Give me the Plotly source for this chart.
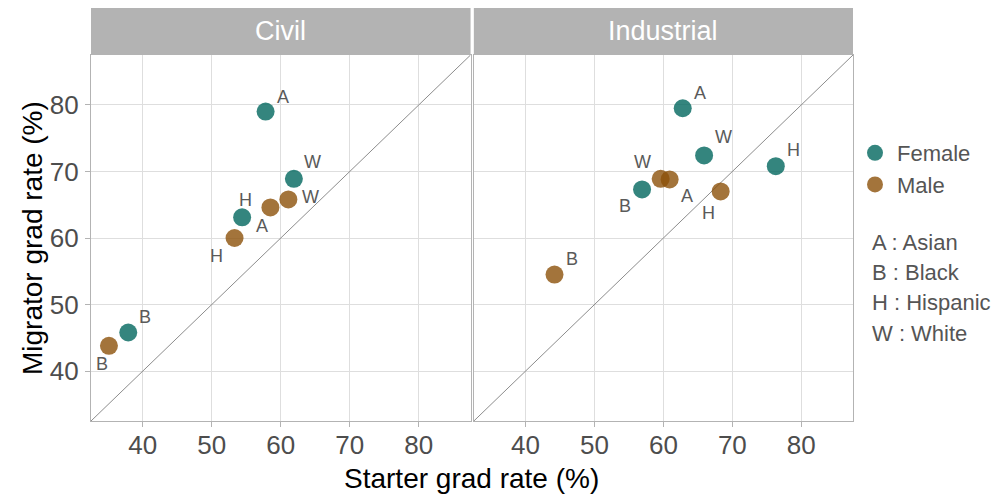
import plotly.graph_objects as go

# ---------------- data ----------------
facets = ["Civil", "Industrial"]
groups = ["A", "B", "H", "W"]
civil_female_x = [57.8, 37.9, 54.4, 61.9]
civil_female_y = [79.0, 45.8, 63.1, 68.9]
civil_male_x = [58.5, 35.1, 53.3, 61.1]
civil_male_y = [64.6, 43.8, 60.0, 65.8]
ind_female_x = [62.8, 56.9, 76.3, 65.9]
ind_female_y = [79.5, 67.3, 70.8, 72.4]
ind_male_x = [60.9, 44.2, 68.3, 59.6]
ind_male_y = [68.8, 54.5, 67.0, 68.9]
key_labels = ["A : Asian", "B : Black", "H : Hispanic", "W : White"]
tick_vals = [40, 50, 60, 70, 80]
axis_range = [32.5, 87.5]

# ---------------- style ----------------
FONT = "Liberation Sans, Arial, sans-serif"
COL_F = "#01665E"
COL_M = "#8C510A"
GRID = "#DEDEDE"
BORDER = "#B3B3B3"
TICKTXT = "#4D4D4D"
LABEL_COL = "#5A5A5A"

# label offsets in pixels (xshift, yshift), order A, B, H, W
off_civil_f = [(17, 15), (17, 15), (3, 17), (19, 17)]
off_civil_m = [(-8, -19), (-7, -18), (-18, -18), (22, 2)]
off_ind_f = [(17, 15), (-17, -17), (18, 16), (19, 18)]
off_ind_m = [(17, -17), (17, 16), (-12, -22), (-18, 17)]

W, H = 997, 495
L, R, T, B = 91, 997 - 853.3, 55, 495 - 420.7
plot_w = W - L - R
plot_h = H - T - B
dom1 = [0, (470.7 - L) / plot_w]
dom2 = [(474 - L) / plot_w, 1]

fig = go.Figure()

panels = [
    ("x", "y", civil_female_x, civil_female_y, civil_male_x, civil_male_y, off_civil_f, off_civil_m, True, dom1),
    ("x2", "y2", ind_female_x, ind_female_y, ind_male_x, ind_male_y, off_ind_f, off_ind_m, False, dom2),
]

annotations = []
shapes = []
strip_h = 47 / plot_h
for i, (xa, ya, fx, fy, mx, my, off_f, off_m, show, dom) in enumerate(panels):
    # identity line
    fig.add_trace(go.Scatter(x=axis_range, y=axis_range, mode="lines",
                             line=dict(color="#8C8C8C", width=1),
                             xaxis=xa, yaxis=ya, showlegend=False, hoverinfo="skip"))
    fig.add_trace(go.Scatter(x=fx, y=fy, mode="markers", name="Female",
                             marker=dict(color=COL_F, size=18, opacity=0.8),
                             xaxis=xa, yaxis=ya, showlegend=show, legendgroup="F"))
    fig.add_trace(go.Scatter(x=mx, y=my, mode="markers", name="Male",
                             marker=dict(color=COL_M, size=18, opacity=0.8),
                             xaxis=xa, yaxis=ya, showlegend=show, legendgroup="M"))
    for xs, ys, offs in ((fx, fy, off_f), (mx, my, off_m)):
        for g, xv, yv, (dx, dy) in zip(groups, xs, ys, offs):
            annotations.append(dict(x=xv, y=yv, xref=xa, yref=ya, text=g,
                                    showarrow=False, xshift=dx, yshift=dy,
                                    font=dict(family=FONT, size=18, color=LABEL_COL)))
    # strip
    shapes.append(dict(type="rect", xref="paper", yref="paper", x0=dom[0], x1=dom[1],
                       y0=1, y1=1 + strip_h,
                       fillcolor="#B3B3B3", line=dict(width=0), layer="below"))
    annotations.append(dict(xref="paper", yref="paper", x=(dom[0] + dom[1]) / 2,
                            y=1 + strip_h / 2, yanchor="middle", xanchor="center",
                            text=facets[i], showarrow=False,
                            font=dict(family=FONT, size=27, color="white")))

# shared axis titles
annotations.append(dict(xref="paper", yref="paper", x=(472 - L) / plot_w, y=-(478 - 420.7) / plot_h,
                        yanchor="middle", text="Starter grad rate (%)", showarrow=False,
                        font=dict(family=FONT, size=28, color="black")))
annotations.append(dict(xref="paper", yref="paper", x=-(91 - 32) / plot_w, y=0.5,
                        xanchor="center", text="Migrator grad rate (%)", showarrow=False, textangle=-90,
                        font=dict(family=FONT, size=28, color="black")))

# group key
for k, txt in enumerate(key_labels):
    ypx = 242 + k * 30.3
    annotations.append(dict(xref="paper", yref="paper", x=(870 - L) / plot_w,
                            y=(420.7 - ypx) / plot_h, xanchor="left", yanchor="middle", text=txt,
                            showarrow=False, font=dict(family=FONT, size=22, color="#555555")))

axis_common = dict(range=axis_range, tickvals=tick_vals, showgrid=True, gridcolor=GRID,
                   gridwidth=1, zeroline=False, showline=True, mirror=True,
                   linecolor=BORDER, linewidth=1.3,
                   tickfont=dict(family=FONT, size=26, color=TICKTXT))

fig.update_layout(
    width=W, height=H,
    margin=dict(l=L, r=R, t=T, b=B, autoexpand=False),
    plot_bgcolor="white", paper_bgcolor="white",
    xaxis=dict(domain=dom1, anchor="y", ticks="outside", ticklen=5, tickcolor=BORDER,
               ticklabelstandoff=-4, **axis_common),
    xaxis2=dict(domain=dom2, anchor="y2", ticks="outside", ticklen=5, tickcolor=BORDER,
                ticklabelstandoff=-4, **axis_common),
    yaxis=dict(anchor="x", ticks="outside", ticklen=5, tickcolor=BORDER,
               ticklabelstandoff=1, **axis_common),
    yaxis2=dict(anchor="x2", matches="y", showticklabels=False, ticks="", **axis_common),
    legend=dict(x=1.0, xanchor="left", y=(420.7 - 132) / plot_h, yanchor="top",
                font=dict(family=FONT, size=22, color="#555555"), bgcolor="rgba(0,0,0,0)",
                tracegroupgap=0, itemwidth=34),
    annotations=annotations,
    shapes=shapes,
    showlegend=True,
)

fig.write_html("out.html", config={"displayModeBar": False},
               post_script="document.body.style.margin='0';")
